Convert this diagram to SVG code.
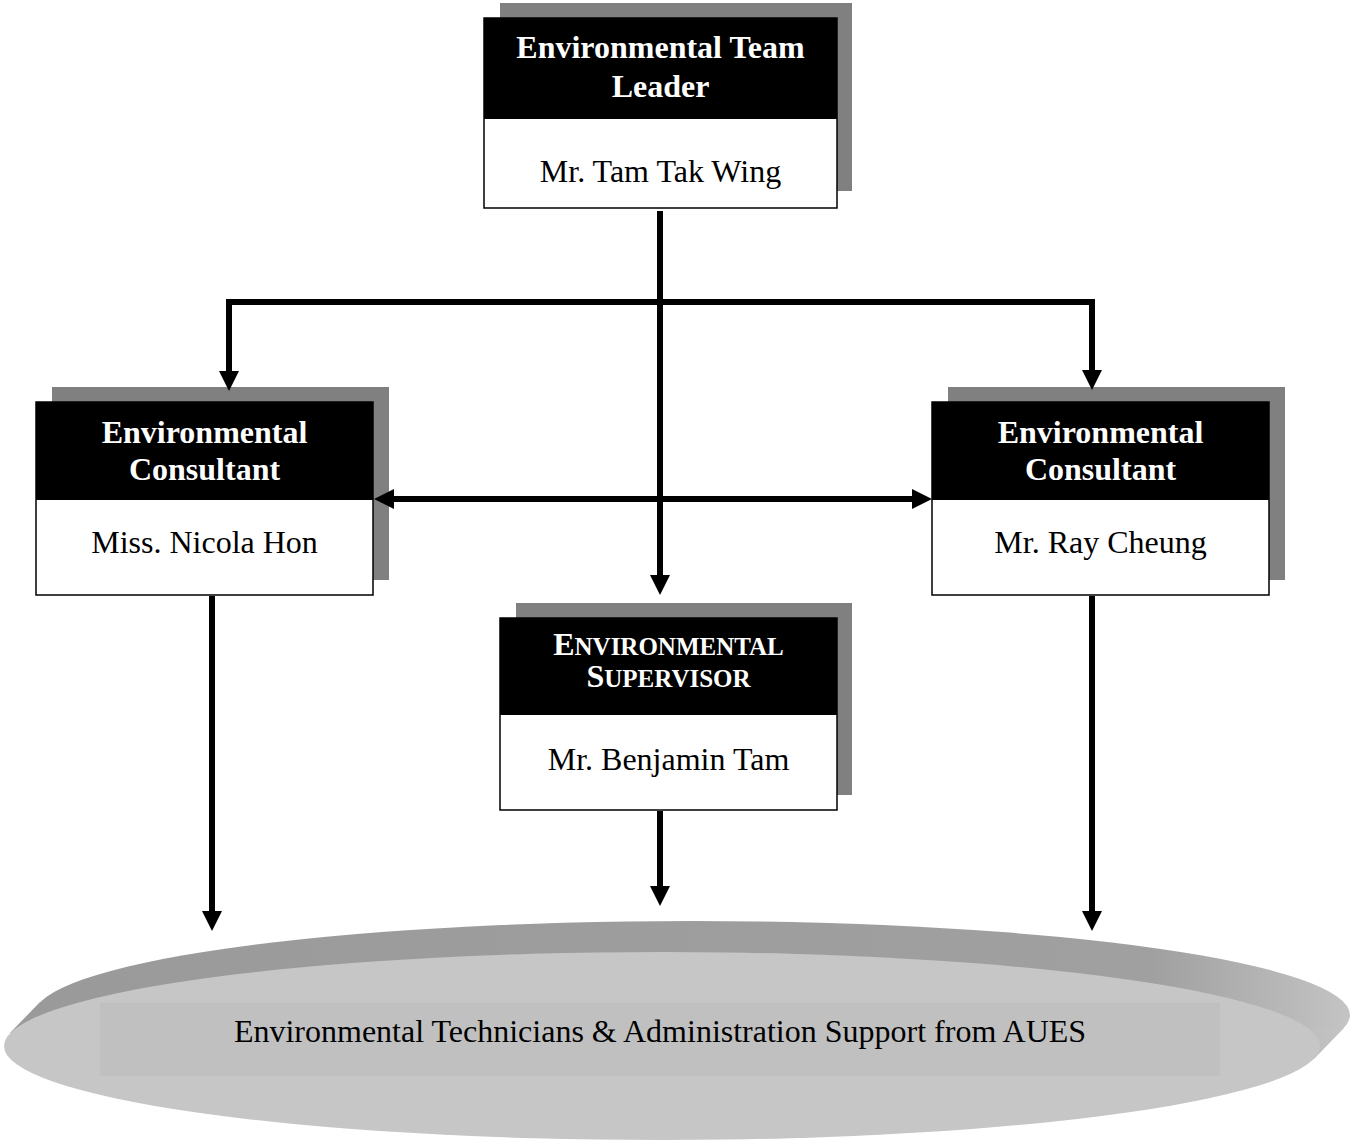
<svg xmlns="http://www.w3.org/2000/svg" width="1354" height="1147" viewBox="0 0 1354 1147">
<style>
.shadow{fill:#808080}
.box{fill:#ffffff;stroke:#000;stroke-width:1.5}
.head{fill:#000}
.ht{font-family:"Liberation Serif","Times New Roman",serif;font-weight:bold;font-size:32px;fill:#fff;text-anchor:middle}
.nt{font-family:"Liberation Serif","Times New Roman",serif;font-size:32px;fill:#000;text-anchor:middle}
.conn{fill:none;stroke:#000;stroke-width:6;stroke-linejoin:miter}
</style>
<defs>
<marker id="arr" viewBox="0 0 20 20" refX="10" refY="10" markerWidth="20" markerHeight="20" markerUnits="userSpaceOnUse" orient="auto-start-reverse">
<path d="M0,0 L20,10 L0,20 z" fill="#000"/>
</marker>
<linearGradient id="rim" x1="0" y1="0" x2="1" y2="0">
<stop offset="0" stop-color="#9a9a9a"/>
<stop offset="0.85" stop-color="#a0a0a0"/>
<stop offset="1" stop-color="#c4c4c4"/>
</linearGradient>
</defs>

<g id="support">
<ellipse cx="692" cy="1015" rx="658" ry="94" fill="url(#rim)"/>
<polygon points="10,1033 40,1002 1344,1028 1314,1059" fill="url(#rim)"/>
<ellipse cx="662" cy="1046" rx="658" ry="94" fill="#c6c6c6"/>
<rect x="100" y="1003" width="1120" height="73" fill="#c0c0c0"/>
<text class="nt" x="660" y="1042">Environmental Technicians &amp; Administration Support from AUES</text>
</g>

<g id="team-leader">
<rect class="shadow" x="500" y="3" width="352" height="188"/>
<rect class="box" x="484" y="18" width="353" height="190"/>
<rect class="head" x="484" y="18" width="353" height="101"/>
<text class="ht" x="660.5" y="58">Environmental Team</text>
<text class="ht" x="660.5" y="97">Leader</text>
<text class="nt" x="660.5" y="182">Mr. Tam Tak Wing</text>
</g>

<g id="consultant-left">
<rect class="shadow" x="52" y="387" width="337" height="193"/>
<rect class="box" x="36" y="402" width="337" height="193"/>
<rect class="head" x="36" y="402" width="337" height="98"/>
<text class="ht" x="204.5" y="443">Environmental</text>
<text class="ht" x="204.5" y="480">Consultant</text>
<text class="nt" x="204.5" y="553">Miss. Nicola Hon</text>
</g>

<g id="consultant-right">
<rect class="shadow" x="948" y="387" width="337" height="193"/>
<rect class="box" x="932" y="402" width="337" height="193"/>
<rect class="head" x="932" y="402" width="337" height="98"/>
<text class="ht" x="1100.5" y="443">Environmental</text>
<text class="ht" x="1100.5" y="480">Consultant</text>
<text class="nt" x="1100.5" y="553">Mr. Ray Cheung</text>
</g>

<g id="supervisor">
<rect class="shadow" x="516" y="603" width="336" height="192"/>
<rect class="box" x="500" y="618" width="337" height="192"/>
<rect class="head" x="500" y="618" width="337" height="97"/>
<text class="ht" x="668.5" y="655">E<tspan font-size="25">NVIRONMENTAL</tspan></text>
<text class="ht" x="668.5" y="687">S<tspan font-size="25">UPERVISOR</tspan></text>
<text class="nt" x="668.5" y="770">Mr. Benjamin Tam</text>
</g>

<g id="connectors">
<path class="conn" d="M660,211 V585" marker-end="url(#arr)"/>
<path class="conn" d="M229,381 V302 H1092 V380" marker-start="url(#arr)" marker-end="url(#arr)"/>
<path class="conn" d="M384,499 H922" marker-start="url(#arr)" marker-end="url(#arr)"/>
<path class="conn" d="M212,596 V921" marker-end="url(#arr)"/>
<path class="conn" d="M1092,596 V921" marker-end="url(#arr)"/>
<path class="conn" d="M660,811 V896" marker-end="url(#arr)"/>
</g>
</svg>
